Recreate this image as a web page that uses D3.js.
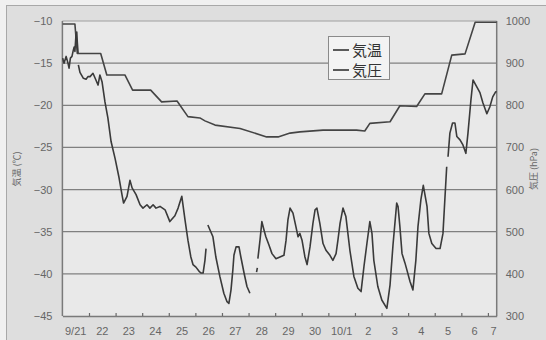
<!DOCTYPE html>
<html>
<head>
<meta charset="utf-8">
<script src="https://cdn.jsdelivr.net/npm/d3@7"></script>
<style>
  html, body { margin: 0; padding: 0; background: #f0f0f0; }
  svg { display: block; }
</style>
</head>
<body>
<svg id="chart" width="546" height="340"></svg>
<script>
// Day labels along the bottom (one per calendar day, 9/21 .. 10/7)
const dayLabels = ["9/21","22","23","24","25","26","27","28","29","30","10/1","2","3","4","5","6","7"];
const tempTicks = [-45,-40,-35,-30,-25,-20,-15,-10];
const pressTicks = [300,400,500,600,700,800,900,1000];

// Air temperature (°C); time in days since 9/21 00:00, null marks a gap in the record
const tempDay = [0.01,0.06,0.14,0.21,0.25,0.30,0.36,0.40,0.44,0.47,0.51,0.54,0.56,0.59,0.595,
  0.60,0.66,0.79,0.89,0.96,1.04,1.15,1.26,1.34,1.41,1.49,1.60,1.71,1.83,1.98,2.13,2.24,2.30,2.43,2.54,2.62,2.77,2.92,3.03,3.18,3.29,3.41,3.52,3.67,3.86,4.04,4.23,4.35,4.49,4.61,4.72,4.83,4.91,5.02,5.14,5.21,5.29,5.36,5.40,5.43,
  5.47,5.55,5.66,5.77,5.92,6.07,6.19,6.26,6.34,6.41,6.45,6.53,6.64,6.71,6.83,6.94,7.05,7.18,
  7.30,7.33,7.34,
  7.35,7.43,7.50,7.58,7.65,7.77,7.88,8.03,8.18,8.33,8.41,8.48,8.56,8.67,8.78,8.86,8.93,9.01,9.12,9.20,9.31,9.42,9.50,9.57,9.68,9.80,9.91,10.06,10.17,10.29,10.36,10.44,10.55,10.66,10.81,10.96,11.11,11.23,11.34,11.45,11.56,11.64,11.71,11.86,12.01,12.20,12.32,12.43,12.57,12.62,12.69,12.77,12.88,12.95,13.07,13.18,13.29,13.37,13.48,13.57,13.71,13.78,13.89,14.05,14.20,14.31,14.38,14.45,14.47,
  14.50,14.57,14.67,14.76,14.83,14.95,15.06,15.17,15.25,15.36,15.44,15.51,15.70,15.81,15.96,16.07,16.18,16.29,16.33];
const tempC = [-14.4,-15.0,-14.2,-15.0,-15.6,-14.4,-14.2,-13.6,-13.1,-13.6,-11.7,-11.3,-12.5,-13.8,null,
  -15.2,-16.1,-16.8,-16.9,-16.6,-16.6,-16.2,-17.0,-17.6,-16.4,-17.2,-19.6,-21.5,-24.3,-26.3,-28.6,-30.6,-31.6,-30.8,-28.9,-29.8,-30.6,-31.8,-32.2,-31.8,-32.2,-31.8,-32.2,-32.0,-32.4,-33.8,-33.1,-32.2,-30.8,-33.6,-36.0,-38.0,-38.9,-39.2,-39.7,-39.9,-39.9,-38.4,-37.0,null,
  -34.2,-34.8,-35.6,-38.0,-40.3,-42.3,-43.3,-43.5,-41.9,-39.5,-37.8,-36.8,-36.8,-38.0,-39.9,-41.5,-42.3,null,
  -39.8,-39.3,null,
  -38.2,-36.0,-33.8,-34.8,-35.6,-36.6,-37.6,-38.2,-38.0,-37.8,-36.0,-33.6,-32.2,-32.8,-34.4,-35.6,-35.2,-36.0,-38.0,-38.9,-36.8,-34.0,-32.4,-32.2,-34.0,-36.4,-37.2,-37.8,-38.4,-37.6,-36.0,-34.0,-32.2,-33.2,-37.2,-40.3,-41.7,-42.1,-39.1,-36.4,-33.8,-35.2,-38.4,-41.5,-43.1,-44.1,-41.3,-36.6,-31.6,-32.0,-34.4,-37.6,-38.7,-39.5,-40.9,-41.9,-38.4,-34.4,-31.2,-29.5,-32.0,-35.2,-36.4,-37.0,-37.0,-35.2,-31.2,-27.3,null,
  -26.1,-23.3,-22.1,-22.1,-23.7,-24.1,-24.7,-25.7,-23.3,-19.4,-17.0,-17.4,-18.5,-19.7,-21.0,-20.2,-19.0,-18.4,-18.4];

// Air pressure (hPa)
const pressDay = [0.01,0.47,0.56,1.44,1.67,2.35,2.64,3.32,3.73,4.31,4.72,5.17,5.36,5.74,6.68,7.68,8.11,8.56,8.93,9.80,11.06,11.37,11.56,12.32,12.69,13.32,13.63,14.26,14.64,15.14,15.52,16.33];
const pressHpa = [993,993,923,923,872,872,836,836,808,810,773,770,763,753,745,725,725,734,737,741,741,739,757,761,799,797,827,827,919,922,997,997];

const legendLabels = ["気温","気圧"];

const svg = d3.select("#chart");
const W = 546, H = 340;
const plotL = 62.4, plotR = 496.7, plotT = 21, plotB = 316;
const dayEnd = 16.33;

const x = d3.scaleLinear().domain([0, dayEnd]).range([plotL, plotR]);
const yT = d3.scaleLinear().domain([-45, -10]).range([plotB, plotT]);
const yP = d3.scaleLinear().domain([300, 1000]).range([plotB, plotT]);

// outer panel
svg.append("rect").attr("x", 6.5).attr("y", 5.5).attr("width", W).attr("height", H)
  .attr("fill", "#dedede").attr("stroke", "#a8a8a8").attr("stroke-width", 1);

// plot area
svg.append("rect").attr("x", plotL).attr("y", plotT).attr("width", plotR - plotL).attr("height", plotB - plotT)
  .attr("fill", "#e9e9e9");

const ink = "#444";
const gridColor = "#808080";

// horizontal gridlines
svg.append("g").selectAll("line").data(tempTicks.slice(1, -1)).join("line")
  .attr("x1", plotL).attr("x2", plotR)
  .attr("y1", d => yT(d)).attr("y2", d => yT(d))
  .attr("stroke", gridColor).attr("stroke-width", 1.3);
svg.append("line").attr("x1", plotL).attr("x2", plotR).attr("y1", plotT).attr("y2", plotT)
  .attr("stroke", "#a0a0a0").attr("stroke-width", 1);

// left axis
const axL = svg.append("g").attr("transform", `translate(${plotL},0)`)
  .call(d3.axisLeft(yT).tickValues(tempTicks).tickSize(0).tickPadding(10).tickFormat(d3.format("d")));
// right axis
const axR = svg.append("g").attr("transform", `translate(${plotR},0)`)
  .call(d3.axisRight(yP).tickValues(pressTicks).tickSize(0).tickPadding(9).tickFormat(d3.format("d")));
// bottom axis: inward ticks at day boundaries
const axB = svg.append("g").attr("transform", `translate(0,${plotB})`)
  .call(d3.axisBottom(x).tickValues(d3.range(1, 17)).tickSizeInner(-3).tickSizeOuter(0).tickFormat(""));

[axL, axR, axB].forEach(g => {
  g.select(".domain").attr("stroke", "#7a7a7a").attr("stroke-width", 1.5);
  g.selectAll(".tick line").attr("stroke", "#6a6a6a").attr("stroke-width", 1.2);
  g.selectAll("text").attr("fill", "#666").attr("font-family", "Liberation Sans, Arial, sans-serif").attr("font-size", 11);
});
axL.select(".domain").attr("d", `M0,${plotT}V${plotB}`);
axR.select(".domain").attr("d", `M0,${plotT}V${plotB}`);

// day labels, centred in the visible part of each day
svg.append("g").selectAll("text").data(dayLabels).join("text")
  .attr("x", (d, i) => x((i + Math.min(i + 1, dayEnd)) / 2 + (i === 16 ? 0.05 : 0)))
  .attr("y", 335)
  .attr("text-anchor", "middle")
  .attr("fill", "#666")
  .attr("font-family", "Liberation Sans, Arial, sans-serif")
  .attr("font-size", 11)
  .text(d => d);

// axis titles
svg.append("text")
  .attr("transform", "translate(20,169) rotate(-90)")
  .attr("text-anchor", "middle")
  .attr("fill", "#666")
  .attr("font-family", "Noto Sans CJK JP, sans-serif")
  .attr("font-size", 9)
  .text("気温 (℃)");
svg.append("text")
  .attr("transform", "translate(537,169) rotate(-90)")
  .attr("text-anchor", "middle")
  .attr("fill", "#666")
  .attr("font-family", "Noto Sans CJK JP, sans-serif")
  .attr("font-size", 9)
  .text("気圧 (hPa)");

// pressure line
const pressPts = pressDay.map((d, i) => [d, pressHpa[i]]);
svg.append("path").datum(pressPts)
  .attr("fill", "none").attr("stroke", ink).attr("stroke-width", 1.6)
  .attr("stroke-linejoin", "round")
  .attr("d", d3.line().x(d => x(d[0])).y(d => yP(d[1])));

// temperature line
const tempPts = tempDay.map((d, i) => [d, tempC[i]]);
svg.append("path").datum(tempPts)
  .attr("fill", "none").attr("stroke", "#3a3a3a").attr("stroke-width", 1.6)
  .attr("stroke-linejoin", "round")
  .attr("d", d3.line().defined(d => d[1] !== null).x(d => x(d[0])).y(d => yT(d[1])));

// legend
const lg = svg.append("g");
lg.append("rect").attr("x", 328.5).attr("y", 36.5).attr("width", 61).attr("height", 43)
  .attr("fill", "#f3f3f3").attr("stroke", "#8a8a8a").attr("stroke-width", 1);
legendLabels.forEach((t, i) => {
  const cy = 50 + i * 20;
  lg.append("line").attr("x1", 333).attr("x2", 349).attr("y1", cy).attr("y2", cy)
    .attr("stroke", "#333").attr("stroke-width", 1.6);
  lg.append("text").attr("x", 352).attr("y", cy + 5.5)
    .attr("fill", "#333")
    .attr("font-family", "Noto Sans CJK JP, sans-serif")
    .attr("font-size", 15)
    .text(t);
});
</script>
</body>
</html>
